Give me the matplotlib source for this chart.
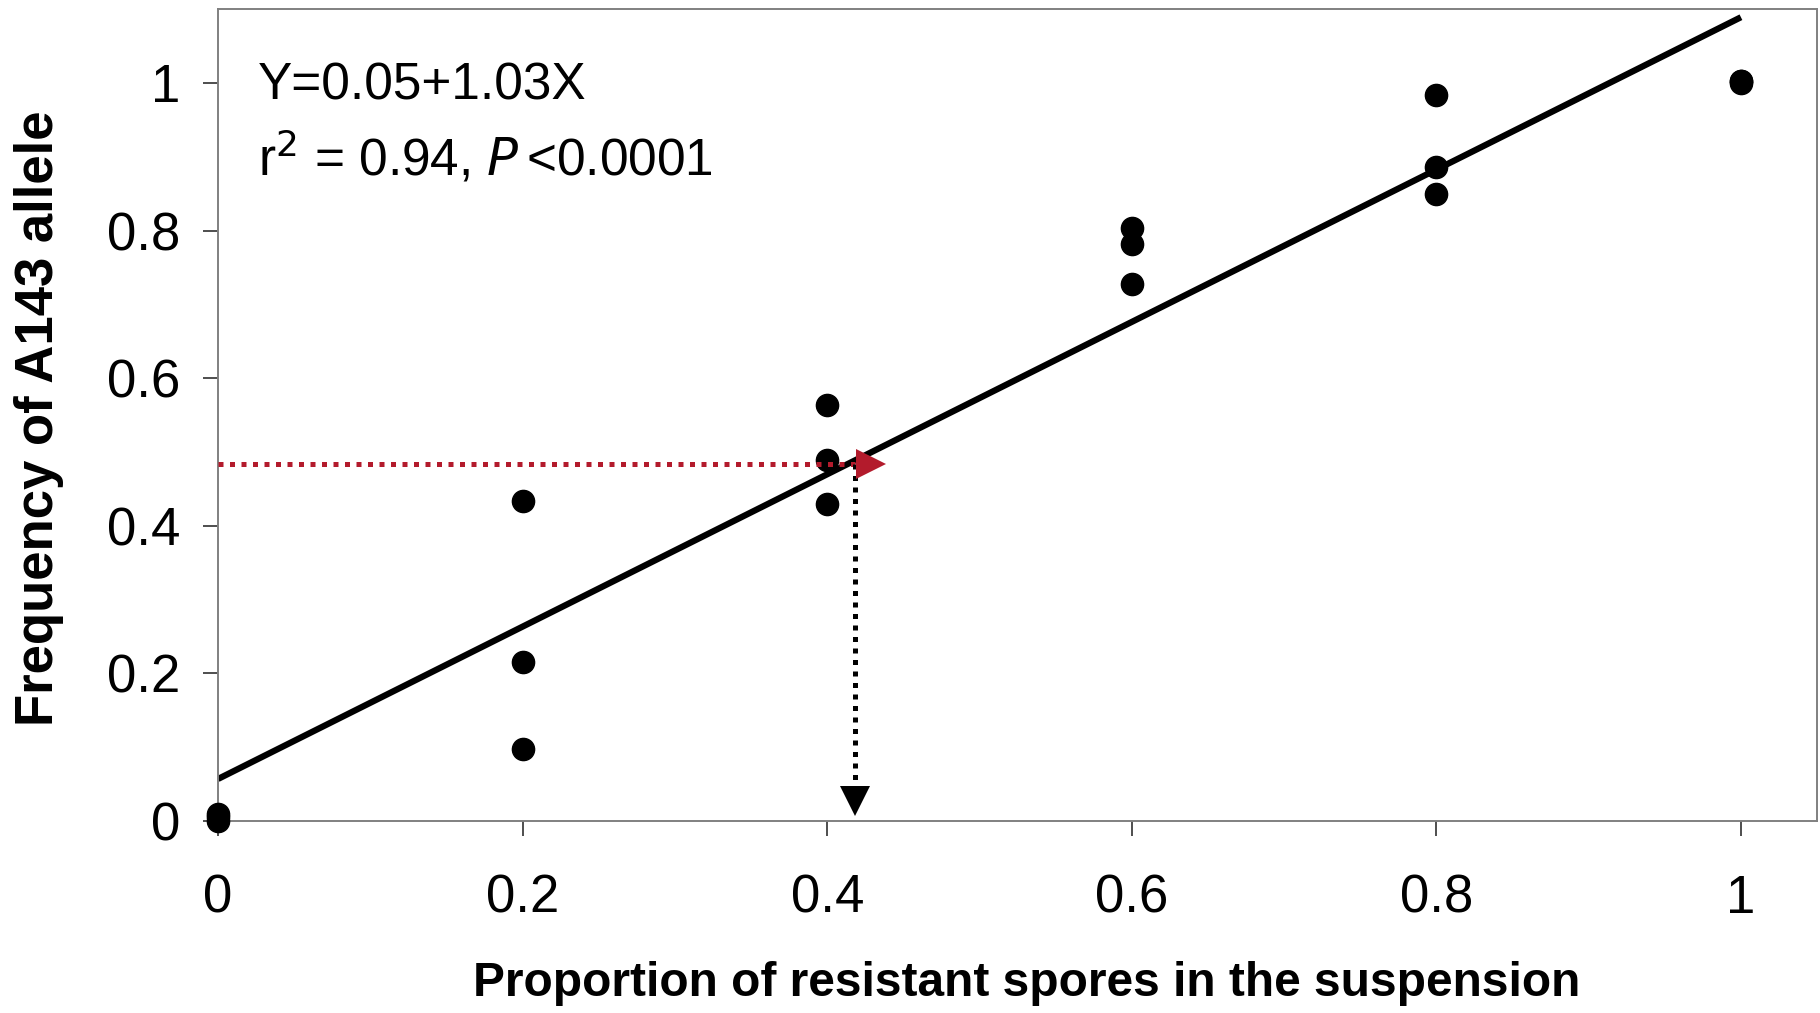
import matplotlib
matplotlib.use("Agg")
import matplotlib.pyplot as plt

plt.rcParams["font.family"] = ["Liberation Sans", "DejaVu Sans"]

# replicate measurements (proportion of resistant spores vs allele frequency)
x_prop = [0, 0, 0,
          0.2, 0.2, 0.2,
          0.4, 0.4, 0.4,
          0.6, 0.6, 0.6,
          0.8, 0.8, 0.8,
          1.0, 1.0, 1.0]
y_freq = [0.0, 0.005, 0.01,
          0.434, 0.216, 0.098,
          0.563, 0.489, 0.429,
          0.804, 0.782, 0.727,
          0.983, 0.886, 0.849,
          1.003, 1.0, 1.002]

# regression line end points
fit_x = [0.0, 1.0]
fit_y = [0.057, 1.089]

# read-off example: observed frequency -> estimated proportion
obs_freq = 0.484
est_prop = 0.418

x_ticks = [0, 0.2, 0.4, 0.6, 0.8, 1]
x_ticklabels = ["0", "0.2", "0.4", "0.6", "0.8", "1"]
y_ticks = [0, 0.2, 0.4, 0.6, 0.8, 1]
y_ticklabels = ["0", "0.2", "0.4", "0.6", "0.8", "1"]

red = "#B31B2C"

fig = plt.figure(figsize=(18.2, 10.13), dpi=100)
ax = fig.add_axes([0.1198, 0.1895, 0.8786, 0.8015])

ax.plot(fit_x, fit_y, color="black", lw=4.5, solid_capstyle="butt", zorder=2)

ax.plot(x_prop, y_freq, "o", color="black", ms=16, clip_on=False, zorder=3)

# horizontal red dotted arrow
ax.plot([0, est_prop], [obs_freq, obs_freq], color=red, lw=3.6,
        ls=(0, (1, 1.3)), zorder=4)
ax.plot([est_prop + 0.0105], [obs_freq], marker=">", color=red, ms=22,
        mew=0, zorder=5)

# vertical black dotted arrow
ax.plot([est_prop, est_prop], [obs_freq, 0.048], color="black", lw=3.6,
        ls=(0, (1, 1.3)), zorder=4)
ax.plot([est_prop], [0.027], marker="v", color="black", ms=22, mew=0,
        zorder=5)

ax.text(0.026, 0.996, "Y=0.05+1.03X", fontsize=37, va="center", ha="left")
ax.text(0.026, 0.898, r"r$^{2}$ = 0.94, $\it{P}\,$<0.0001", fontsize=37,
        va="center", ha="left")

ax.set_xlim(0, 1.05)
ax.set_ylim(0, 1.1)
ax.set_xticks(x_ticks)
ax.set_xticklabels(x_ticklabels)
ax.set_yticks(y_ticks)
ax.set_yticklabels(y_ticklabels)
ax.tick_params(axis="both", labelsize=38, length=11, width=1.3,
               color="#404040", direction="out")
ax.tick_params(axis="x", pad=27)
ax.tick_params(axis="y", pad=16)

for sp in ax.spines.values():
    sp.set_color("#808080")
    sp.set_linewidth(1.4)

ax.set_xlabel("Proportion of resistant spores in the suspension",
              fontsize=34.5, fontweight="bold")
ax.set_ylabel("Frequency of A143 allele", fontsize=38, fontweight="bold")
ax.xaxis.label.set_va("center")
ax.yaxis.label.set_va("center")
ax.xaxis.set_label_coords(0.506, -0.1995)
ax.yaxis.set_label_coords(-0.112, 0.496)

fig.savefig("out.png", dpi=100)
